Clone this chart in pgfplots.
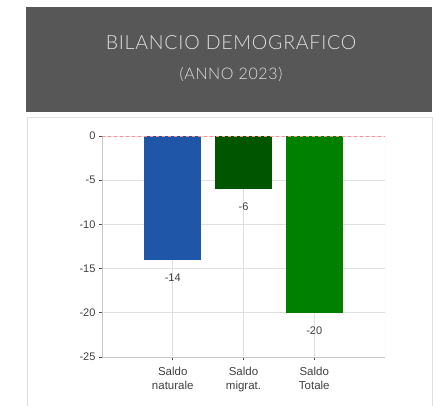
\documentclass[border=0pt]{standalone}
\usepackage{pgfplots}
\pgfplotsset{compat=1.18}
\usepackage{fontspec}
\setmainfont{Liberation Sans}
\newfontfamily\titlefont[LetterSpace=4]{Lato Light}
\definecolor{hdr}{HTML}{575757}
\definecolor{ttl}{HTML}{E0E0E0}
\definecolor{bblue}{HTML}{1F56A8}
\definecolor{dgreen}{HTML}{005500}
\definecolor{mgreen}{HTML}{008000}
\definecolor{txt}{HTML}{404040}
\begin{document}
\begin{tikzpicture}[x=1pt,y=1pt]
\useasboundingbox (0,0) rectangle (433,405);
\fill[white] (0,0) rectangle (433,405);
\fill[hdr] (26,293) rectangle (432,398);
\draw[gray!25, line width=0.8pt] (27,-3) rectangle (432,288);
\node[text=ttl, font=\titlefont\fontsize{19.5}{22}\selectfont] at (231,362.5) {BILANCIO DEMOGRAFICO};
\node[text=ttl, font=\titlefont\fontsize{16}{17}\selectfont] at (231,331) {(ANNO 2023)};
\begin{axis}[
  at={(102pt,48pt)}, anchor=south west,
  width=283pt, height=221pt, scale only axis,
  xmin=0, xmax=4, ymin=-25, ymax=0,
  ybar, bar width=57pt,
  xtick={1,2,3},
  xticklabels={{Saldo\\naturale},{Saldo\\migrat.},{Saldo\\Totale}},
  xticklabel style={align=center, font=\fontsize{11.5}{14}\selectfont, text=txt, yshift=-4pt},
  ytick={-25,-20,-15,-10,-5,0},
  yticklabel style={font=\fontsize{11}{12}\selectfont, text=txt},
  /pgf/number format/assume math mode=true,
  axis x line*=bottom, axis y line*=left,
  axis line style={-, gray!45, line width=0.8pt},
  tick align=outside, major tick length=3pt,
  tick style={black!70, line width=0.8pt},
  xmajorgrids, ymajorgrids,
  grid style={gray!25, line width=0.8pt},
  nodes near coords,
  nodes near coords align={below},
  every node near coord/.append style={font=\fontsize{11}{12}\selectfont, text=txt, yshift=-10.5pt},
  /pgf/number format/.cd, fixed,
]
\addplot[fill=bblue, draw=none, bar shift=0pt] coordinates {(1,-14)};
\addplot[fill=dgreen, draw=none, bar shift=0pt] coordinates {(2,-6)};
\addplot[fill=mgreen, draw=none, bar shift=0pt] coordinates {(3,-20)};
\draw[gray!25, line width=0.8pt] (axis cs:4,-25) -- (axis cs:4,0);
\draw[red!45, dashed, line width=0.8pt] (axis cs:0,0) -- (axis cs:4,0);
\end{axis}
\end{tikzpicture}
\end{document}
